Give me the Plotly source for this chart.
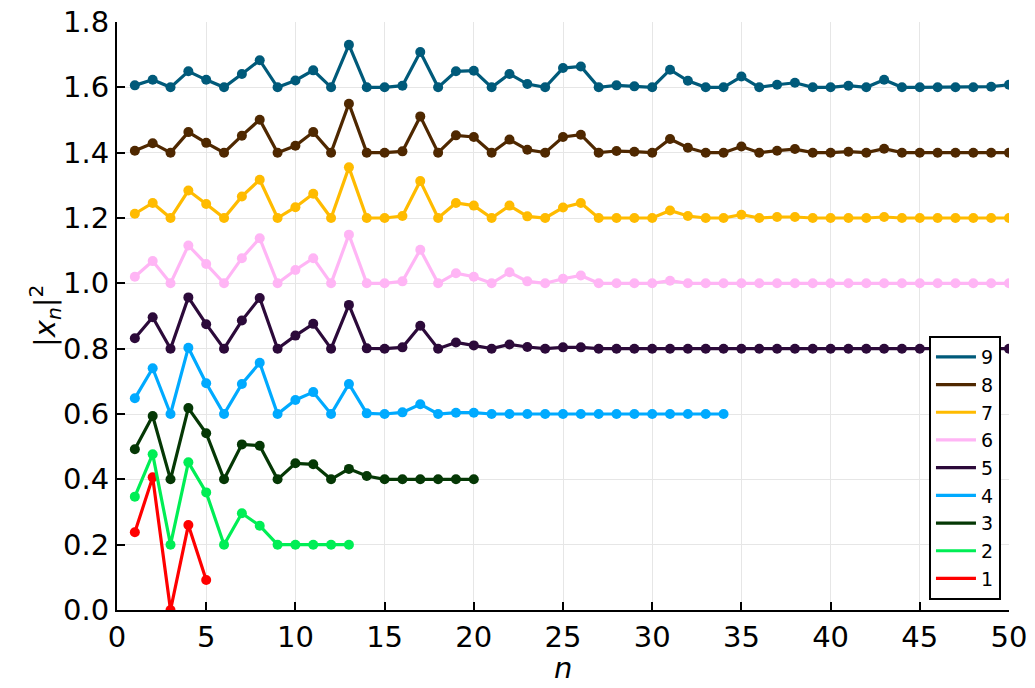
import plotly.graph_objects as go

series_names = ["1", "2", "3", "4", "5", "6", "7", "8", "9"]
series_colors = ["#FF0000", "#00EE55", "#053805", "#00AAFF", "#2C0A3A",
                 "#FFB5F5", "#FFBB00", "#4F2800", "#005A7A"]

s1 = [0.238, 0.406, 0.0, 0.260, 0.092]
s2 = [0.347, 0.477, 0.2, 0.452, 0.360, 0.2, 0.296, 0.258, 0.2, 0.2, 0.2, 0.2, 0.2]
s3 = [0.492, 0.594, 0.4, 0.618, 0.541, 0.4, 0.507, 0.503, 0.4, 0.449, 0.446, 0.4,
      0.432, 0.410, 0.4, 0.4, 0.4, 0.4, 0.4, 0.4]
s4 = [0.648, 0.740, 0.6, 0.803, 0.694, 0.6, 0.692, 0.757, 0.6, 0.643, 0.667, 0.6,
      0.692, 0.602, 0.6, 0.605, 0.630, 0.6, 0.604, 0.604, 0.6, 0.6, 0.6, 0.6,
      0.6, 0.6, 0.6, 0.6, 0.6, 0.6, 0.6, 0.6, 0.6, 0.6]
s5 = [0.832, 0.896, 0.8, 0.957, 0.875, 0.8, 0.886, 0.955, 0.8, 0.840, 0.876, 0.8,
      0.934, 0.801, 0.8, 0.804, 0.870, 0.8, 0.819, 0.810, 0.8, 0.813, 0.805, 0.8,
      0.804, 0.804, 0.8, 0.8, 0.8, 0.8, 0.8, 0.8, 0.8, 0.8, 0.8, 0.8, 0.8, 0.8,
      0.8, 0.8, 0.8, 0.8, 0.8, 0.8, 0.8, 0.8, 0.8, 0.8, 0.8, 0.8]
s6 = [1.020, 1.068, 1.0, 1.116, 1.059, 1.0, 1.077, 1.138, 1.0, 1.041, 1.077, 1.0,
      1.149, 1.0, 1.0, 1.006, 1.103, 1.0, 1.031, 1.020, 1.0, 1.034, 1.006, 1.0,
      1.014, 1.024, 1.0, 1.0, 1.0, 1.0, 1.008, 1.0, 1.0, 1.0, 1.0, 1.0, 1.0, 1.0,
      1.0, 1.0, 1.0, 1.0, 1.0, 1.0, 1.0, 1.0, 1.0, 1.0, 1.0, 1.0]
s7 = [1.213, 1.246, 1.2, 1.284, 1.243, 1.2, 1.266, 1.317, 1.2, 1.233, 1.274, 1.2,
      1.355, 1.2, 1.2, 1.206, 1.313, 1.2, 1.246, 1.238, 1.2, 1.238, 1.205, 1.2,
      1.232, 1.246, 1.2, 1.2, 1.2, 1.2, 1.223, 1.206, 1.2, 1.2, 1.210, 1.2, 1.203,
      1.203, 1.2, 1.2, 1.2, 1.2, 1.203, 1.2, 1.2, 1.2, 1.2, 1.2, 1.2, 1.2]
s8 = [1.406, 1.429, 1.4, 1.463, 1.430, 1.4, 1.452, 1.501, 1.4, 1.421, 1.463, 1.4,
      1.550, 1.4, 1.4, 1.404, 1.511, 1.4, 1.453, 1.448, 1.4, 1.440, 1.409, 1.4,
      1.448, 1.455, 1.4, 1.405, 1.403, 1.4, 1.442, 1.415, 1.4, 1.4, 1.419, 1.4,
      1.406, 1.411, 1.4, 1.4, 1.403, 1.4, 1.412, 1.4, 1.4, 1.4, 1.4, 1.4, 1.4, 1.4]
s9 = [1.606, 1.623, 1.6, 1.649, 1.623, 1.6, 1.641, 1.683, 1.6, 1.621, 1.652, 1.6,
      1.730, 1.6, 1.6, 1.605, 1.708, 1.6, 1.649, 1.651, 1.6, 1.641, 1.610, 1.6,
      1.659, 1.664, 1.6, 1.606, 1.603, 1.6, 1.654, 1.620, 1.6, 1.6, 1.633, 1.6,
      1.608, 1.614, 1.6, 1.6, 1.605, 1.6, 1.623, 1.6, 1.6, 1.6, 1.6, 1.6, 1.602, 1.608]

all_series = [s1, s2, s3, s4, s5, s6, s7, s8, s9]

x_ticks = [0, 5, 10, 15, 20, 25, 30, 35, 40, 45, 50]
y_ticks = [0.0, 0.2, 0.4, 0.6, 0.8, 1.0, 1.2, 1.4, 1.6, 1.8]

x_title = "<i>n</i>"
y_title = "|<i>x</i><sub><i>n</i></sub>|<sup>2</sup>"

fig = go.Figure()
for name, color, ys in zip(series_names, series_colors, all_series):
    fig.add_trace(go.Scatter(
        x=list(range(1, len(ys) + 1)), y=ys, mode="lines+markers",
        line=dict(color=color, width=3.2), marker=dict(color=color, size=10),
        name=name, showlegend=False, cliponaxis=True))

# legend entries (line only), listed 9 .. 1
for name, color in reversed(list(zip(series_names, series_colors))):
    fig.add_trace(go.Scatter(x=[None], y=[None], mode="lines",
                             line=dict(color=color, width=3.2), name=name,
                             showlegend=True))

axis_common = dict(
    showline=True, linecolor="black", linewidth=2, mirror=False,
    ticks="inside", ticklen=8, tickwidth=1.5, tickcolor="black",
    showgrid=True, gridcolor="#E6E6E6", gridwidth=1, zeroline=False,
    automargin=False,
    tickfont=dict(family="DejaVu Sans", size=29, color="black"),
)

fig.update_xaxes(range=[0, 50], tickvals=x_ticks,
                 ticktext=[str(v) for v in x_ticks], **axis_common)
fig.update_yaxes(range=[0, 1.8], tickvals=y_ticks,
                 ticktext=[f"{v:.1f}" for v in y_ticks], **axis_common)

fig.add_annotation(text=x_title, xref="paper", yref="paper", x=0.5, y=0,
                   yshift=-58, xanchor="center", yanchor="middle", showarrow=False,
                   font=dict(family="DejaVu Sans", size=29, color="black"))
fig.add_annotation(text=y_title, xref="paper", yref="paper", x=0, y=0.5,
                   xshift=-72, xanchor="center", yanchor="middle", showarrow=False,
                   textangle=-90,
                   font=dict(family="DejaVu Sans", size=29, color="black"))

fig.update_layout(
    width=1035, height=688,
    margin=dict(l=117, r=26, t=22, b=78),
    plot_bgcolor="white", paper_bgcolor="white",
    legend=dict(x=0.991, y=0.017, xanchor="right", yanchor="bottom",
                bgcolor="white", bordercolor="black", borderwidth=2,
                font=dict(family="DejaVu Sans", size=19, color="black"),
                tracegroupgap=0, itemwidth=40),
)

fig.write_html("out.html", config={"displayModeBar": False},
               post_script="document.body.style.margin='0';document.body.style.padding='0';")
